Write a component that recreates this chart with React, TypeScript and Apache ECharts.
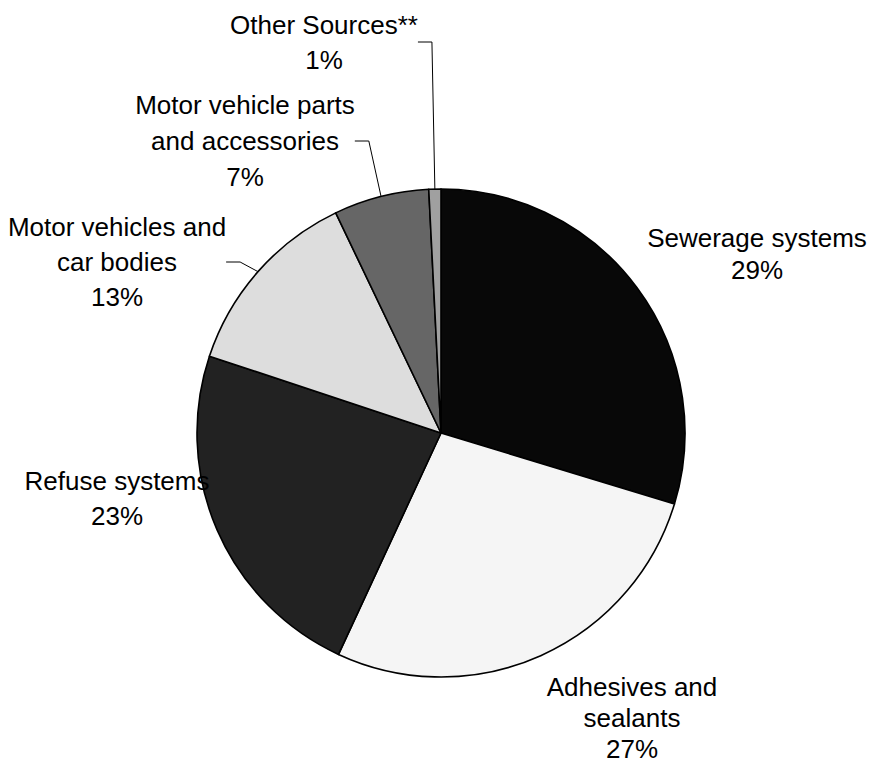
import React, { useEffect, useRef } from "react";
import * as echarts from "echarts";

const categories = [
  "Sewerage systems",
  "Adhesives and\nsealants",
  "Refuse systems",
  "Motor vehicles and\ncar bodies",
  "Motor vehicle parts\nand accessories",
  "Other Sources**",
];
const values = [29.7, 27.2, 23.2, 12.8, 6.3, 0.8];
const percentLabels = ["29%", "27%", "23%", "13%", "7%", "1%"];
const colors = ["#080808", "#f5f5f5", "#222222", "#dddddd", "#666666", "#a0a0a0"];
const showLine = [false, false, false, true, true, true];
const labelLineHeights = [32, 31, 35, 35, 36, 35];
const labelPos = [
  [757, 254],
  [632, 718],
  [117, 498],
  [117, 262],
  [245, 141],
  [324, 42],
];

export default function App() {
  const ref = useRef<HTMLDivElement>(null);
  useEffect(() => {
    if (!ref.current) return;
    const chart = echarts.init(ref.current, null, { renderer: "svg" });
    chart.setOption({
      animation: false,
      backgroundColor: "#ffffff",
      series: [
        {
          type: "pie",
          center: [441, 433],
          radius: 244,
          startAngle: 90,
          clockwise: true,
          avoidLabelOverlap: false,
          itemStyle: { borderColor: "#000000", borderWidth: 1.6 },
          label: {
            show: true,
            position: "outside",
            color: "#000000",
            fontFamily: "Liberation Sans, Arial, sans-serif",
            fontSize: 26,
            lineHeight: 34,
            align: "center",
            formatter: (p: any) => `${p.name}\n${percentLabels[p.dataIndex]}`,
          },
          labelLine: {
            show: true,
            length: 10,
            length2: 14,
            lineStyle: { color: "#000000", width: 1 },
          },
          labelLayout: (p: any) => ({
            x: labelPos[p.dataIndex][0],
            y: labelPos[p.dataIndex][1],
            align: "center",
            verticalAlign: "middle",
          }),
          data: categories.map((name, i) => ({
            name,
            value: values[i],
            itemStyle: { color: colors[i] },
            label: { lineHeight: labelLineHeights[i] },
            labelLine: { show: showLine[i] },
          })),
        },
      ],
    });
    return () => chart.dispose();
  }, []);
  return (
    <div
      ref={ref}
      style={{ position: "fixed", left: 0, top: 0, width: 871, height: 763 }}
    />
  );
}
